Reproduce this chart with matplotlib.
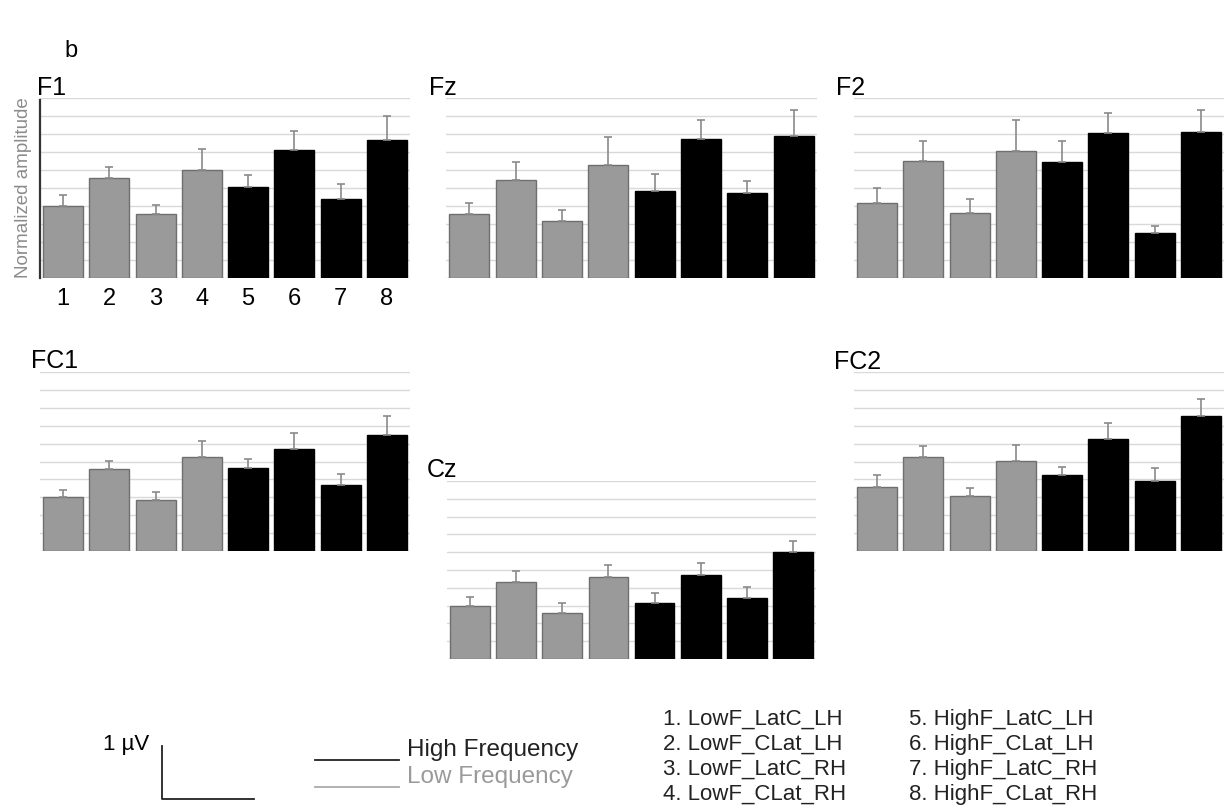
import numpy as np
import matplotlib
matplotlib.use("Agg")
import matplotlib.pyplot as plt

plt.rcParams['font.family'] = ['Liberation Sans', 'DejaVu Sans']

# condition numbers 1..8 (1-4 low frequency, 5-8 high frequency)
conditions = [1, 2, 3, 4, 5, 6, 7, 8]
condition_names = ["LowF_LatC_LH", "LowF_CLat_LH", "LowF_LatC_RH", "LowF_CLat_RH",
                   "HighF_LatC_LH", "HighF_CLat_LH", "HighF_LatC_RH", "HighF_CLat_RH"]

# mean normalized amplitude and SEM per electrode
f1_mean = [0.400, 0.556, 0.356, 0.602, 0.504, 0.711, 0.437, 0.769]
f1_err = [0.059, 0.063, 0.051, 0.117, 0.070, 0.106, 0.083, 0.131]
fz_mean = [0.356, 0.546, 0.317, 0.630, 0.483, 0.770, 0.472, 0.791]
fz_err = [0.061, 0.097, 0.061, 0.153, 0.095, 0.108, 0.067, 0.142]
f2_mean = [0.419, 0.650, 0.363, 0.707, 0.643, 0.806, 0.252, 0.813]
f2_err = [0.083, 0.111, 0.076, 0.171, 0.118, 0.111, 0.037, 0.120]
fc1_mean = [0.303, 0.458, 0.285, 0.525, 0.462, 0.570, 0.367, 0.646]
fc1_err = [0.038, 0.045, 0.043, 0.088, 0.052, 0.087, 0.063, 0.108]
cz_mean = [0.295, 0.435, 0.259, 0.461, 0.312, 0.472, 0.343, 0.601]
cz_err = [0.054, 0.059, 0.054, 0.067, 0.056, 0.065, 0.064, 0.061]
fc2_mean = [0.359, 0.525, 0.309, 0.501, 0.423, 0.628, 0.393, 0.752]
fc2_err = [0.067, 0.063, 0.041, 0.093, 0.048, 0.087, 0.069, 0.099]

W, H = 1232, 809
fig = plt.figure(figsize=(W / 100, H / 100), dpi=100)

LOW = "#9a9a9a"
HIGH = "#000000"
GRID = "#d9d9d9"


def px_axes(l, t, r, b):
    return fig.add_axes([l / W, 1 - b / H, (r - l) / W, (b - t) / H])


def electrode(box, title, title_xy, mean, err, first=False):
    ax = px_axes(*box)
    for y in np.arange(0, 1.01, 0.1):
        ax.axhline(y, color=GRID, lw=1, zorder=0)
    colors = [LOW] * 4 + [HIGH] * 4
    edges = ["#6f6f6f"] * 4 + [HIGH] * 4
    ax.bar(conditions, mean, width=0.86, color=colors, edgecolor=edges, lw=1, zorder=2)
    ax.errorbar(conditions, mean, yerr=[np.zeros(len(err)), err], fmt="none",
                ecolor="#8a8a8a", elinewidth=1.2, capsize=3, capthick=1.2, zorder=3)
    ax.set_xlim(0.5, 8.5)
    ax.set_ylim(0, 1.0)
    for s in ax.spines.values():
        s.set_visible(False)
    ax.set_yticks([])
    if first:
        ax.spines['left'].set_visible(True)
        ax.spines['left'].set_color("#333333")
        ax.spines['left'].set_linewidth(1.6)
        ax.spines['left'].set_bounds(0, 0.99)
        ax.set_xticks(conditions)
        ax.tick_params(axis='x', length=0, labelsize=17, pad=7)
        ax.set_ylabel("Normalized amplitude", color="#8c8c8c", fontsize=13.5, labelpad=6)
    else:
        ax.set_xticks([])
    fig.text(title_xy[0] / W, 1 - title_xy[1] / H, title, fontsize=18,
             ha="left", va="baseline")
    return ax


electrode((40, 98, 410, 278), "F1", (37, 95), f1_mean, f1_err, first=True)
electrode((446, 98, 817, 278), "Fz", (429, 95), fz_mean, fz_err)
electrode((854, 98, 1224, 278), "F2", (836, 95), f2_mean, f2_err)
electrode((40, 372, 410, 551), "FC1", (31, 368), fc1_mean, fc1_err)
electrode((447, 481, 816, 659), "Cz", (427, 477), cz_mean, cz_err)
electrode((854, 372, 1224, 551), "FC2", (834, 369), fc2_mean, fc2_err)

fig.text(64 / W, 1 - 57 / H, "b", fontsize=17, va="baseline")

# scale bar and frequency key
fig.add_artist(plt.Line2D([162 / W, 162 / W, 254 / W], [1 - 746 / H, 1 - 799 / H, 1 - 799 / H],
                          color="#222222", lw=1.3))
fig.text(103 / W, 1 - 750 / H, "1 µV", fontsize=16, va="baseline")
fig.add_artist(plt.Line2D([315 / W, 399 / W], [1 - 760 / H] * 2, color="#222222", lw=1.3))
fig.add_artist(plt.Line2D([315 / W, 399 / W], [1 - 787 / H] * 2, color="#aaaaaa", lw=1.3))
fig.text(407 / W, 1 - 756 / H, "High Frequency", fontsize=17.5, va="baseline", color="#222222")
fig.text(407 / W, 1 - 783 / H, "Low Frequency", fontsize=17.5, va="baseline", color="#9a9a9a")

# numbered condition list in two columns
for i, name in enumerate(condition_names):
    col, row = divmod(i, 4)
    x = [663, 909][col]
    y = 725 + 25 * row
    fig.text(x / W, 1 - y / H, f"{i + 1}. {name}", fontsize=16, va="baseline",
             color="#222222")

fig.savefig("out.png", dpi=100)
